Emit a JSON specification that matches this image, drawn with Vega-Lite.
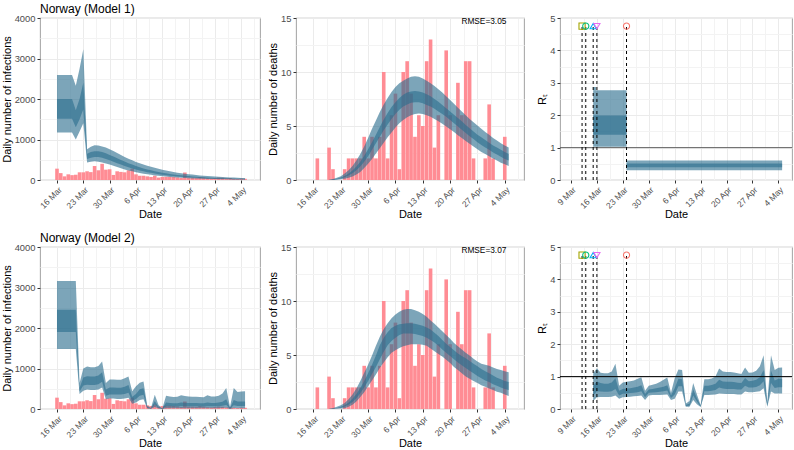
{
"$schema": "https://vega.github.io/schema/vega-lite/v6.json",
"padding": {"left": 0, "top": 2, "right": 0, "bottom": 0},
"bounds": "flush",
"align": "each",
"columns": 3,
"spacing": {"row": 67, "column": 36},
"config": {
  "font": "Liberation Sans",
  "view": {"stroke": "#ABABAB", "strokeWidth": 1.1},
  "axis": {"domain": false, "labelFont": "Liberation Sans", "labelFontSize": 9.4, "labelColor": "#4D4D4D", "titleFont": "Liberation Sans", "titleFontSize": 11, "titleFontWeight": "normal", "titleColor": "#000000", "tickSize": 3, "tickWidth": 1, "tickColor": "#333333", "gridColor": "#EBEBEB", "labelOverlap": false, "labelFlush": false},
  "axisX": {"labelPadding": 2, "titlePadding": -1, "labelFontSize": 8.5},
  "axisY": {"labelPadding": 2, "titlePadding": 2},
  "title": {"font": "Liberation Sans", "fontSize": 12, "fontWeight": "normal", "anchor": "start", "frame": "group", "color": "#000000", "offset": -3}
},
"datasets": {
  "cases": [
    {"date":"2020-03-16","count":280},{"date":"2020-03-17","count":170},{"date":"2020-03-18","count":90},{"date":"2020-03-19","count":140},{"date":"2020-03-20","count":120},{"date":"2020-03-21","count":130},{"date":"2020-03-22","count":190},{"date":"2020-03-23","count":190},{"date":"2020-03-24","count":215},{"date":"2020-03-25","count":195},{"date":"2020-03-26","count":345},{"date":"2020-03-27","count":240},{"date":"2020-03-28","count":400},{"date":"2020-03-29","count":255},{"date":"2020-03-30","count":265},{"date":"2020-03-31","count":125},
    {"date":"2020-04-01","count":215},{"date":"2020-04-02","count":200},{"date":"2020-04-03","count":190},{"date":"2020-04-04","count":240},{"date":"2020-04-05","count":280},{"date":"2020-04-06","count":140},{"date":"2020-04-07","count":105},{"date":"2020-04-08","count":105},{"date":"2020-04-09","count":90},{"date":"2020-04-10","count":75},{"date":"2020-04-11","count":105},{"date":"2020-04-12","count":60},{"date":"2020-04-13","count":75},{"date":"2020-04-14","count":80},{"date":"2020-04-15","count":80},{"date":"2020-04-16","count":75},{"date":"2020-04-17","count":65},{"date":"2020-04-18","count":50},{"date":"2020-04-19","count":185},{"date":"2020-04-20","count":60},{"date":"2020-04-21","count":60},{"date":"2020-04-22","count":55},{"date":"2020-04-23","count":70},{"date":"2020-04-24","count":60},{"date":"2020-04-25","count":45},{"date":"2020-04-26","count":40},{"date":"2020-04-27","count":50},{"date":"2020-04-28","count":60},{"date":"2020-04-29","count":55},{"date":"2020-04-30","count":40},
    {"date":"2020-05-01","count":50},{"date":"2020-05-02","count":30},{"date":"2020-05-03","count":25},{"date":"2020-05-04","count":35},{"date":"2020-05-05","count":30}
  ],
  "deaths": [
    {"date":"2020-03-16","count":0},{"date":"2020-03-17","count":2},{"date":"2020-03-18","count":0},{"date":"2020-03-19","count":0},{"date":"2020-03-20","count":3},{"date":"2020-03-21","count":1},{"date":"2020-03-22","count":0},{"date":"2020-03-23","count":0},{"date":"2020-03-24","count":1},{"date":"2020-03-25","count":2},{"date":"2020-03-26","count":2},{"date":"2020-03-27","count":2},{"date":"2020-03-28","count":2},{"date":"2020-03-29","count":4},{"date":"2020-03-30","count":2},{"date":"2020-03-31","count":4},
    {"date":"2020-04-01","count":2},{"date":"2020-04-02","count":4},{"date":"2020-04-03","count":10},{"date":"2020-04-04","count":2},{"date":"2020-04-05","count":6},{"date":"2020-04-06","count":8},{"date":"2020-04-07","count":1},{"date":"2020-04-08","count":10},{"date":"2020-04-09","count":11},{"date":"2020-04-10","count":8},{"date":"2020-04-11","count":4},{"date":"2020-04-12","count":6},{"date":"2020-04-13","count":5},{"date":"2020-04-14","count":11},{"date":"2020-04-15","count":13},{"date":"2020-04-16","count":3},{"date":"2020-04-17","count":6},{"date":"2020-04-18","count":0},{"date":"2020-04-19","count":12},{"date":"2020-04-20","count":6},{"date":"2020-04-21","count":0},{"date":"2020-04-22","count":9},{"date":"2020-04-23","count":6},{"date":"2020-04-24","count":11},{"date":"2020-04-25","count":11},{"date":"2020-04-26","count":2},{"date":"2020-04-27","count":0},{"date":"2020-04-28","count":0},{"date":"2020-04-29","count":2},{"date":"2020-04-30","count":7},
    {"date":"2020-05-01","count":2},{"date":"2020-05-02","count":0},{"date":"2020-05-03","count":0},{"date":"2020-05-04","count":4}
  ],
  "inf1": [
    {"date":"2020-03-16","lo95":1170,"lo50":1510,"hi50":2000,"hi95":2590},
    {"date":"2020-03-17","lo95":1170,"lo50":1510,"hi50":2000,"hi95":2590},
    {"date":"2020-03-18","lo95":1170,"lo50":1510,"hi50":2000,"hi95":2590},
    {"date":"2020-03-19","lo95":1170,"lo50":1510,"hi50":2000,"hi95":2590},
    {"date":"2020-03-20","lo95":1170,"lo50":1510,"hi50":2000,"hi95":2590},
    {"date":"2020-03-21","lo95":1000,"lo50":1300,"hi50":1720,"hi95":2330},
    {"date":"2020-03-22","lo95":1200,"lo50":1500,"hi50":2000,"hi95":2750},
    {"date":"2020-03-23","lo95":1400,"lo50":1750,"hi50":2400,"hi95":3230},
    {"date":"2020-03-24","lo95":430,"lo50":520,"hi50":650,"hi95":760},
    {"date":"2020-03-25","lo95":450,"lo50":550,"hi50":690,"hi95":820},
    {"date":"2020-03-26","lo95":460,"lo50":570,"hi50":710,"hi95":855},
    {"date":"2020-03-27","lo95":450,"lo50":565,"hi50":710,"hi95":850},
    {"date":"2020-03-28","lo95":430,"lo50":550,"hi50":690,"hi95":830},
    {"date":"2020-03-29","lo95":410,"lo50":520,"hi50":660,"hi95":800},
    {"date":"2020-03-30","lo95":380,"lo50":490,"hi50":620,"hi95":760},
    {"date":"2020-03-31","lo95":350,"lo50":450,"hi50":580,"hi95":715},
    {"date":"2020-04-01","lo95":320,"lo50":415,"hi50":535,"hi95":665},
    {"date":"2020-04-02","lo95":290,"lo50":380,"hi50":495,"hi95":615},
    {"date":"2020-04-03","lo95":262,"lo50":345,"hi50":455,"hi95":570},
    {"date":"2020-04-04","lo95":237,"lo50":315,"hi50":415,"hi95":525},
    {"date":"2020-04-05","lo95":214,"lo50":287,"hi50":380,"hi95":485},
    {"date":"2020-04-06","lo95":193,"lo50":260,"hi50":346,"hi95":447},
    {"date":"2020-04-07","lo95":174,"lo50":236,"hi50":315,"hi95":412},
    {"date":"2020-04-08","lo95":157,"lo50":214,"hi50":287,"hi95":380},
    {"date":"2020-04-09","lo95":141,"lo50":194,"hi50":262,"hi95":351},
    {"date":"2020-04-10","lo95":127,"lo50":176,"hi50":239,"hi95":325},
    {"date":"2020-04-11","lo95":114,"lo50":160,"hi50":218,"hi95":300},
    {"date":"2020-04-12","lo95":103,"lo50":145,"hi50":199,"hi95":276},
    {"date":"2020-04-13","lo95":93,"lo50":131,"hi50":181,"hi95":253},
    {"date":"2020-04-14","lo95":84,"lo50":119,"hi50":165,"hi95":233},
    {"date":"2020-04-15","lo95":75,"lo50":108,"hi50":151,"hi95":214},
    {"date":"2020-04-16","lo95":68,"lo50":98,"hi50":138,"hi95":197},
    {"date":"2020-04-17","lo95":61,"lo50":89,"hi50":126,"hi95":182},
    {"date":"2020-04-18","lo95":55,"lo50":80,"hi50":115,"hi95":168},
    {"date":"2020-04-19","lo95":50,"lo50":73,"hi50":105,"hi95":155},
    {"date":"2020-04-20","lo95":45,"lo50":66,"hi50":96,"hi95":144},
    {"date":"2020-04-21","lo95":40,"lo50":60,"hi50":88,"hi95":133},
    {"date":"2020-04-22","lo95":36,"lo50":54,"hi50":80,"hi95":123},
    {"date":"2020-04-23","lo95":33,"lo50":49,"hi50":73,"hi95":114},
    {"date":"2020-04-24","lo95":30,"lo50":44,"hi50":67,"hi95":106},
    {"date":"2020-04-25","lo95":27,"lo50":40,"hi50":61,"hi95":98},
    {"date":"2020-04-26","lo95":24,"lo50":36,"hi50":56,"hi95":91},
    {"date":"2020-04-27","lo95":22,"lo50":33,"hi50":51,"hi95":85},
    {"date":"2020-04-28","lo95":20,"lo50":30,"hi50":47,"hi95":79},
    {"date":"2020-04-29","lo95":18,"lo50":27,"hi50":43,"hi95":73},
    {"date":"2020-04-30","lo95":16,"lo50":25,"hi50":39,"hi95":68},
    {"date":"2020-05-01","lo95":14,"lo50":22,"hi50":36,"hi95":63},
    {"date":"2020-05-02","lo95":13,"lo50":20,"hi50":33,"hi95":59},
    {"date":"2020-05-03","lo95":12,"lo50":18,"hi50":30,"hi95":55},
    {"date":"2020-05-04","lo95":11,"lo50":17,"hi50":28,"hi95":51},
    {"date":"2020-05-05","lo95":10,"lo50":15,"hi50":26,"hi95":48}
  ],
  "inf2": [
    {"date":"2020-03-16","lo95":1480,"lo50":1900,"hi50":2450,"hi95":3160},
    {"date":"2020-03-17","lo95":1480,"lo50":1900,"hi50":2450,"hi95":3160},
    {"date":"2020-03-18","lo95":1480,"lo50":1900,"hi50":2450,"hi95":3160},
    {"date":"2020-03-19","lo95":1480,"lo50":1900,"hi50":2450,"hi95":3160},
    {"date":"2020-03-20","lo95":1480,"lo50":1900,"hi50":2450,"hi95":3160},
    {"date":"2020-03-21","lo95":1480,"lo50":1900,"hi50":2450,"hi95":3160},
    {"date":"2020-03-22","lo95":370,"lo50":430,"hi50":520,"hi95":640},
    {"date":"2020-03-23","lo95":450,"lo50":580,"hi50":780,"hi95":1000},
    {"date":"2020-03-24","lo95":480,"lo50":600,"hi50":810,"hi95":1050},
    {"date":"2020-03-25","lo95":470,"lo50":590,"hi50":800,"hi95":1030},
    {"date":"2020-03-26","lo95":470,"lo50":590,"hi50":800,"hi95":1030},
    {"date":"2020-03-27","lo95":480,"lo50":610,"hi50":830,"hi95":1060},
    {"date":"2020-03-28","lo95":530,"lo50":670,"hi50":910,"hi95":1170},
    {"date":"2020-03-29","lo95":240,"lo50":330,"hi50":480,"hi95":640},
    {"date":"2020-03-30","lo95":260,"lo50":360,"hi50":530,"hi95":730},
    {"date":"2020-03-31","lo95":260,"lo50":360,"hi50":530,"hi95":730},
    {"date":"2020-04-01","lo95":250,"lo50":355,"hi50":525,"hi95":720},
    {"date":"2020-04-02","lo95":250,"lo50":355,"hi50":525,"hi95":720},
    {"date":"2020-04-03","lo95":260,"lo50":370,"hi50":550,"hi95":760},
    {"date":"2020-04-04","lo95":280,"lo50":400,"hi50":590,"hi95":800},
    {"date":"2020-04-05","lo95":130,"lo50":200,"hi50":300,"hi95":440},
    {"date":"2020-04-06","lo95":160,"lo50":245,"hi50":370,"hi95":560},
    {"date":"2020-04-07","lo95":220,"lo50":330,"hi50":490,"hi95":650},
    {"date":"2020-04-08","lo95":240,"lo50":350,"hi50":510,"hi95":680},
    {"date":"2020-04-09","lo95":15,"lo50":25,"hi50":45,"hi95":80},
    {"date":"2020-04-10","lo95":5,"lo50":10,"hi50":20,"hi95":30},
    {"date":"2020-04-11","lo95":50,"lo50":110,"hi50":200,"hi95":350},
    {"date":"2020-04-12","lo95":15,"lo50":30,"hi50":55,"hi95":100},
    {"date":"2020-04-13","lo95":0,"lo50":3,"hi50":6,"hi95":12},
    {"date":"2020-04-14","lo95":20,"lo50":70,"hi50":160,"hi95":330},
    {"date":"2020-04-15","lo95":18,"lo50":65,"hi50":150,"hi95":310},
    {"date":"2020-04-16","lo95":17,"lo50":62,"hi50":145,"hi95":295},
    {"date":"2020-04-17","lo95":17,"lo50":62,"hi50":145,"hi95":300},
    {"date":"2020-04-18","lo95":20,"lo50":70,"hi50":160,"hi95":340},
    {"date":"2020-04-19","lo95":19,"lo50":68,"hi50":155,"hi95":320},
    {"date":"2020-04-20","lo95":18,"lo50":66,"hi50":150,"hi95":310},
    {"date":"2020-04-21","lo95":18,"lo50":65,"hi50":148,"hi95":300},
    {"date":"2020-04-22","lo95":18,"lo50":65,"hi50":148,"hi95":300},
    {"date":"2020-04-23","lo95":17,"lo50":63,"hi50":145,"hi95":295},
    {"date":"2020-04-24","lo95":16,"lo50":60,"hi50":140,"hi95":290},
    {"date":"2020-04-25","lo95":20,"lo50":70,"hi50":160,"hi95":340},
    {"date":"2020-04-26","lo95":18,"lo50":65,"hi50":150,"hi95":310},
    {"date":"2020-04-27","lo95":18,"lo50":65,"hi50":150,"hi95":310},
    {"date":"2020-04-28","lo95":19,"lo50":68,"hi50":158,"hi95":330},
    {"date":"2020-04-29","lo95":22,"lo50":78,"hi50":180,"hi95":380},
    {"date":"2020-04-30","lo95":28,"lo50":100,"hi50":240,"hi95":520},
    {"date":"2020-05-01","lo95":3,"lo50":10,"hi50":22,"hi95":50},
    {"date":"2020-05-02","lo95":25,"lo50":90,"hi50":220,"hi95":520},
    {"date":"2020-05-03","lo95":20,"lo50":75,"hi50":185,"hi95":420},
    {"date":"2020-05-04","lo95":20,"lo50":75,"hi50":185,"hi95":430},
    {"date":"2020-05-05","lo95":20,"lo50":75,"hi50":185,"hi95":440}
  ],
  "dth1": [
    {"date":"2020-03-20","lo95":0,"lo50":0,"hi50":0,"hi95":0.03},
    {"date":"2020-03-21","lo95":0.01,"lo50":0.03,"hi50":0.06,"hi95":0.1},
    {"date":"2020-03-22","lo95":0.03,"lo50":0.07,"hi50":0.12,"hi95":0.2},
    {"date":"2020-03-23","lo95":0.06,"lo50":0.14,"hi50":0.22,"hi95":0.35},
    {"date":"2020-03-24","lo95":0.12,"lo50":0.25,"hi50":0.38,"hi95":0.6},
    {"date":"2020-03-25","lo95":0.2,"lo50":0.42,"hi50":0.6,"hi95":0.9},
    {"date":"2020-03-26","lo95":0.32,"lo50":0.62,"hi50":0.88,"hi95":1.3},
    {"date":"2020-03-27","lo95":0.5,"lo50":0.9,"hi50":1.25,"hi95":1.8},
    {"date":"2020-03-28","lo95":0.75,"lo50":1.25,"hi50":1.7,"hi95":2.4},
    {"date":"2020-03-29","lo95":1.1,"lo50":1.7,"hi50":2.25,"hi95":3.1},
    {"date":"2020-03-30","lo95":1.5,"lo50":2.2,"hi50":2.85,"hi95":3.9},
    {"date":"2020-03-31","lo95":1.95,"lo50":2.8,"hi50":3.5,"hi95":4.75},
    {"date":"2020-04-01","lo95":2.45,"lo50":3.4,"hi50":4.2,"hi95":5.5},
    {"date":"2020-04-02","lo95":2.95,"lo50":4.0,"hi50":4.9,"hi95":6.3},
    {"date":"2020-04-03","lo95":3.45,"lo50":4.6,"hi50":5.6,"hi95":7.0},
    {"date":"2020-04-04","lo95":3.95,"lo50":5.15,"hi50":6.2,"hi95":7.6},
    {"date":"2020-04-05","lo95":4.4,"lo50":5.65,"hi50":6.75,"hi95":8.15},
    {"date":"2020-04-06","lo95":4.85,"lo50":6.1,"hi50":7.2,"hi95":8.6},
    {"date":"2020-04-07","lo95":5.25,"lo50":6.5,"hi50":7.6,"hi95":8.95},
    {"date":"2020-04-08","lo95":5.55,"lo50":6.8,"hi50":7.9,"hi95":9.2},
    {"date":"2020-04-09","lo95":5.8,"lo50":7.0,"hi50":8.1,"hi95":9.4},
    {"date":"2020-04-10","lo95":6.0,"lo50":7.15,"hi50":8.2,"hi95":9.55},
    {"date":"2020-04-11","lo95":6.1,"lo50":7.2,"hi50":8.25,"hi95":9.6},
    {"date":"2020-04-12","lo95":6.15,"lo50":7.2,"hi50":8.2,"hi95":9.55},
    {"date":"2020-04-13","lo95":6.1,"lo50":7.1,"hi50":8.1,"hi95":9.4},
    {"date":"2020-04-14","lo95":6.0,"lo50":6.95,"hi50":7.95,"hi95":9.2},
    {"date":"2020-04-15","lo95":5.85,"lo50":6.8,"hi50":7.75,"hi95":8.95},
    {"date":"2020-04-16","lo95":5.65,"lo50":6.6,"hi50":7.5,"hi95":8.7},
    {"date":"2020-04-17","lo95":5.45,"lo50":6.35,"hi50":7.25,"hi95":8.4},
    {"date":"2020-04-18","lo95":5.2,"lo50":6.1,"hi50":6.95,"hi95":8.1},
    {"date":"2020-04-19","lo95":4.95,"lo50":5.85,"hi50":6.65,"hi95":7.75},
    {"date":"2020-04-20","lo95":4.7,"lo50":5.55,"hi50":6.35,"hi95":7.4},
    {"date":"2020-04-21","lo95":4.45,"lo50":5.25,"hi50":6.05,"hi95":7.05},
    {"date":"2020-04-22","lo95":4.15,"lo50":4.95,"hi50":5.75,"hi95":6.7},
    {"date":"2020-04-23","lo95":3.9,"lo50":4.65,"hi50":5.45,"hi95":6.35},
    {"date":"2020-04-24","lo95":3.6,"lo50":4.35,"hi50":5.1,"hi95":6.0},
    {"date":"2020-04-25","lo95":3.35,"lo50":4.05,"hi50":4.8,"hi95":5.65},
    {"date":"2020-04-26","lo95":3.1,"lo50":3.8,"hi50":4.5,"hi95":5.35},
    {"date":"2020-04-27","lo95":2.85,"lo50":3.5,"hi50":4.2,"hi95":5.05},
    {"date":"2020-04-28","lo95":2.6,"lo50":3.25,"hi50":3.95,"hi95":4.75},
    {"date":"2020-04-29","lo95":2.4,"lo50":3.0,"hi50":3.7,"hi95":4.45},
    {"date":"2020-04-30","lo95":2.2,"lo50":2.8,"hi50":3.45,"hi95":4.2},
    {"date":"2020-05-01","lo95":2.0,"lo50":2.55,"hi50":3.2,"hi95":3.9},
    {"date":"2020-05-02","lo95":1.8,"lo50":2.35,"hi50":3.0,"hi95":3.65},
    {"date":"2020-05-03","lo95":1.6,"lo50":2.15,"hi50":2.8,"hi95":3.4},
    {"date":"2020-05-04","lo95":1.45,"lo50":1.95,"hi50":2.6,"hi95":3.2},
    {"date":"2020-05-05","lo95":1.3,"lo50":1.8,"hi50":2.4,"hi95":3.0}
  ],
  "dth2": [
    {"date":"2020-03-20","lo95":0,"lo50":0,"hi50":0,"hi95":0.03},
    {"date":"2020-03-21","lo95":0.01,"lo50":0.03,"hi50":0.05,"hi95":0.1},
    {"date":"2020-03-22","lo95":0.02,"lo50":0.06,"hi50":0.1,"hi95":0.2},
    {"date":"2020-03-23","lo95":0.04,"lo50":0.12,"hi50":0.2,"hi95":0.35},
    {"date":"2020-03-24","lo95":0.08,"lo50":0.22,"hi50":0.35,"hi95":0.55},
    {"date":"2020-03-25","lo95":0.2,"lo50":0.4,"hi50":0.6,"hi95":0.9},
    {"date":"2020-03-26","lo95":0.4,"lo50":0.65,"hi50":0.95,"hi95":1.35},
    {"date":"2020-03-27","lo95":0.7,"lo50":1.0,"hi50":1.4,"hi95":1.9},
    {"date":"2020-03-28","lo95":1.1,"lo50":1.45,"hi50":1.95,"hi95":2.6},
    {"date":"2020-03-29","lo95":1.55,"lo50":2.0,"hi50":2.6,"hi95":3.35},
    {"date":"2020-03-30","lo95":2.1,"lo50":2.6,"hi50":3.3,"hi95":4.1},
    {"date":"2020-03-31","lo95":2.65,"lo50":3.25,"hi50":4.1,"hi95":4.95},
    {"date":"2020-04-01","lo95":3.2,"lo50":3.9,"hi50":4.95,"hi95":5.85},
    {"date":"2020-04-02","lo95":3.8,"lo50":4.6,"hi50":5.9,"hi95":6.7},
    {"date":"2020-04-03","lo95":4.3,"lo50":5.3,"hi50":6.6,"hi95":7.4},
    {"date":"2020-04-04","lo95":4.8,"lo50":5.9,"hi50":7.1,"hi95":7.95},
    {"date":"2020-04-05","lo95":5.2,"lo50":6.3,"hi50":7.5,"hi95":8.4},
    {"date":"2020-04-06","lo95":5.45,"lo50":6.6,"hi50":7.7,"hi95":8.75},
    {"date":"2020-04-07","lo95":5.65,"lo50":6.85,"hi50":7.85,"hi95":9.0},
    {"date":"2020-04-08","lo95":5.8,"lo50":7.0,"hi50":7.9,"hi95":9.2},
    {"date":"2020-04-09","lo95":5.9,"lo50":7.0,"hi50":7.95,"hi95":9.25},
    {"date":"2020-04-10","lo95":6.0,"lo50":7.0,"hi50":7.95,"hi95":9.25},
    {"date":"2020-04-11","lo95":6.0,"lo50":6.95,"hi50":7.9,"hi95":9.15},
    {"date":"2020-04-12","lo95":6.0,"lo50":6.85,"hi50":7.8,"hi95":9.0},
    {"date":"2020-04-13","lo95":5.95,"lo50":6.75,"hi50":7.7,"hi95":8.8},
    {"date":"2020-04-14","lo95":5.85,"lo50":6.6,"hi50":7.55,"hi95":8.55},
    {"date":"2020-04-15","lo95":5.6,"lo50":6.4,"hi50":7.35,"hi95":8.2},
    {"date":"2020-04-16","lo95":5.35,"lo50":6.15,"hi50":7.05,"hi95":7.9},
    {"date":"2020-04-17","lo95":5.1,"lo50":5.85,"hi50":6.75,"hi95":7.55},
    {"date":"2020-04-18","lo95":4.85,"lo50":5.5,"hi50":6.4,"hi95":7.2},
    {"date":"2020-04-19","lo95":4.55,"lo50":5.2,"hi50":6.05,"hi95":6.85},
    {"date":"2020-04-20","lo95":4.25,"lo50":4.9,"hi50":5.75,"hi95":6.5},
    {"date":"2020-04-21","lo95":3.9,"lo50":4.6,"hi50":5.45,"hi95":6.1},
    {"date":"2020-04-22","lo95":3.6,"lo50":4.3,"hi50":5.15,"hi95":5.8},
    {"date":"2020-04-23","lo95":3.3,"lo50":4.05,"hi50":4.9,"hi95":5.5},
    {"date":"2020-04-24","lo95":3.0,"lo50":3.8,"hi50":4.7,"hi95":5.2},
    {"date":"2020-04-25","lo95":2.8,"lo50":3.55,"hi50":4.45,"hi95":4.95},
    {"date":"2020-04-26","lo95":2.6,"lo50":3.3,"hi50":4.2,"hi95":4.65},
    {"date":"2020-04-27","lo95":2.4,"lo50":3.05,"hi50":3.95,"hi95":4.4},
    {"date":"2020-04-28","lo95":2.2,"lo50":2.85,"hi50":3.7,"hi95":4.2},
    {"date":"2020-04-29","lo95":2.05,"lo50":2.65,"hi50":3.5,"hi95":4.1},
    {"date":"2020-04-30","lo95":1.9,"lo50":2.5,"hi50":3.3,"hi95":4.0},
    {"date":"2020-05-01","lo95":1.75,"lo50":2.3,"hi50":3.1,"hi95":3.85},
    {"date":"2020-05-02","lo95":1.6,"lo50":2.15,"hi50":2.9,"hi95":3.7},
    {"date":"2020-05-03","lo95":1.5,"lo50":2.0,"hi50":2.75,"hi95":3.6},
    {"date":"2020-05-04","lo95":1.35,"lo50":1.85,"hi50":2.6,"hi95":3.5},
    {"date":"2020-05-05","lo95":1.2,"lo50":1.75,"hi50":2.5,"hi95":3.4}
  ],
  "rt1": [
    {"start":"2020-03-15","end":"2020-03-24","lo95":1.03,"lo50":1.40,"hi50":1.99,"hi95":2.77},
    {"start":"2020-03-24","end":"2020-05-05","lo95":0.30,"lo50":0.39,"hi50":0.51,"hi95":0.60},
    {"start":"2020-03-15","end":"2020-03-15T18:00:00Z","lo95":2.77,"lo50":null,"hi50":null,"hi95":2.87}
  ],
  "rt2": [
    {"date":"2020-03-15","lo95":0.25,"lo50":0.42,"hi50":0.72,"hi95":1.1},
    {"date":"2020-03-16","lo95":0.36,"lo50":0.55,"hi50":0.85,"hi95":1.26},
    {"date":"2020-03-17","lo95":0.37,"lo50":0.54,"hi50":0.8,"hi95":1.12},
    {"date":"2020-03-18","lo95":0.37,"lo50":0.53,"hi50":0.78,"hi95":1.1},
    {"date":"2020-03-19","lo95":0.37,"lo50":0.53,"hi50":0.78,"hi95":1.1},
    {"date":"2020-03-20","lo95":0.38,"lo50":0.55,"hi50":0.82,"hi95":1.16},
    {"date":"2020-03-21","lo95":0.42,"lo50":0.62,"hi50":0.95,"hi95":1.4},
    {"date":"2020-03-22","lo95":0.32,"lo50":0.42,"hi50":0.56,"hi95":0.72},
    {"date":"2020-03-23","lo95":0.36,"lo50":0.47,"hi50":0.62,"hi95":0.82},
    {"date":"2020-03-24","lo95":0.37,"lo50":0.48,"hi50":0.63,"hi95":0.84},
    {"date":"2020-03-25","lo95":0.38,"lo50":0.49,"hi50":0.64,"hi95":0.86},
    {"date":"2020-03-26","lo95":0.39,"lo50":0.5,"hi50":0.66,"hi95":0.88},
    {"date":"2020-03-27","lo95":0.4,"lo50":0.52,"hi50":0.69,"hi95":0.93},
    {"date":"2020-03-28","lo95":0.42,"lo50":0.55,"hi50":0.73,"hi95":0.98},
    {"date":"2020-03-29","lo95":0.28,"lo50":0.36,"hi50":0.46,"hi95":0.56},
    {"date":"2020-03-30","lo95":0.42,"lo50":0.5,"hi50":0.6,"hi95":0.72},
    {"date":"2020-03-31","lo95":0.43,"lo50":0.51,"hi50":0.62,"hi95":0.75},
    {"date":"2020-04-01","lo95":0.43,"lo50":0.52,"hi50":0.64,"hi95":0.78},
    {"date":"2020-04-02","lo95":0.43,"lo50":0.53,"hi50":0.66,"hi95":0.83},
    {"date":"2020-04-03","lo95":0.44,"lo50":0.55,"hi50":0.69,"hi95":0.9},
    {"date":"2020-04-04","lo95":0.45,"lo50":0.57,"hi50":0.73,"hi95":0.97},
    {"date":"2020-04-05","lo95":0.28,"lo50":0.34,"hi50":0.42,"hi95":0.5},
    {"date":"2020-04-06","lo95":0.32,"lo50":0.45,"hi50":0.64,"hi95":0.95},
    {"date":"2020-04-07","lo95":0.54,"lo50":0.7,"hi50":0.93,"hi95":1.22},
    {"date":"2020-04-08","lo95":0.54,"lo50":0.7,"hi50":0.92,"hi95":1.2},
    {"date":"2020-04-09","lo95":0.07,"lo50":0.09,"hi50":0.13,"hi95":0.17},
    {"date":"2020-04-10","lo95":0.07,"lo50":0.1,"hi50":0.16,"hi95":0.25},
    {"date":"2020-04-11","lo95":0.28,"lo50":0.42,"hi50":0.6,"hi95":0.8},
    {"date":"2020-04-12","lo95":0.15,"lo50":0.23,"hi50":0.33,"hi95":0.45},
    {"date":"2020-04-13","lo95":0.06,"lo50":0.07,"hi50":0.09,"hi95":0.12},
    {"date":"2020-04-14","lo95":0.43,"lo50":0.55,"hi50":0.72,"hi95":0.92},
    {"date":"2020-04-15","lo95":0.43,"lo50":0.55,"hi50":0.72,"hi95":0.92},
    {"date":"2020-04-16","lo95":0.44,"lo50":0.56,"hi50":0.74,"hi95":0.94},
    {"date":"2020-04-17","lo95":0.45,"lo50":0.59,"hi50":0.78,"hi95":1.0},
    {"date":"2020-04-18","lo95":0.48,"lo50":0.66,"hi50":0.9,"hi95":1.25},
    {"date":"2020-04-19","lo95":0.47,"lo50":0.63,"hi50":0.85,"hi95":1.16},
    {"date":"2020-04-20","lo95":0.46,"lo50":0.62,"hi50":0.84,"hi95":1.14},
    {"date":"2020-04-21","lo95":0.46,"lo50":0.62,"hi50":0.84,"hi95":1.14},
    {"date":"2020-04-22","lo95":0.46,"lo50":0.62,"hi50":0.83,"hi95":1.13},
    {"date":"2020-04-23","lo95":0.45,"lo50":0.6,"hi50":0.81,"hi95":1.1},
    {"date":"2020-04-24","lo95":0.45,"lo50":0.6,"hi50":0.8,"hi95":1.08},
    {"date":"2020-04-25","lo95":0.54,"lo50":0.72,"hi50":0.96,"hi95":1.28},
    {"date":"2020-04-26","lo95":0.52,"lo50":0.66,"hi50":0.86,"hi95":1.12},
    {"date":"2020-04-27","lo95":0.52,"lo50":0.66,"hi50":0.87,"hi95":1.13},
    {"date":"2020-04-28","lo95":0.53,"lo50":0.68,"hi50":0.9,"hi95":1.18},
    {"date":"2020-04-29","lo95":0.55,"lo50":0.73,"hi50":0.98,"hi95":1.32},
    {"date":"2020-04-30","lo95":0.64,"lo50":0.86,"hi50":1.2,"hi95":1.66},
    {"date":"2020-05-01","lo95":0.07,"lo50":0.1,"hi50":0.15,"hi95":0.2},
    {"date":"2020-05-02","lo95":0.54,"lo50":0.8,"hi50":1.18,"hi95":1.66},
    {"date":"2020-05-03","lo95":0.48,"lo50":0.65,"hi50":0.88,"hi95":1.2},
    {"date":"2020-05-04","lo95":0.48,"lo50":0.67,"hi50":0.93,"hi95":1.27},
    {"date":"2020-05-05","lo95":0.48,"lo50":0.67,"hi50":0.93,"hi95":1.28}
  ],
  "npi": [
    {"date":"2020-03-12","measure":"Public events"},
    {"date":"2020-03-13","measure":"Schools + Universities"},
    {"date":"2020-03-15","measure":"Self-isolating if ill"},
    {"date":"2020-03-16","measure":"Social distancing encouraged"},
    {"date":"2020-03-24","measure":"Lockdown"}
  ]
},
"concat": [
  {"width": 220, "height": 162, "title": "Norway (Model 1)",
   "layer": [
    {"data": {"name": "cases"}, "mark": {"type": "bar", "width": 3.6, "color": "#FF8C94"},
     "encoding": {
      "x": {"field": "date", "type": "temporal", "title": "Date", "scale": {"type": "utc", "domain": [{"year":2020,"month":3,"date":12,"hours":19,"minutes":30,"utc":true},{"year":2020,"month":5,"date":7,"hours":15,"minutes":30,"utc":true}]},
            "axis": {"labelOverlap": false, "tickCount": 100, "values": [{"year":2020,"month":3,"date":16,"utc":true},{"year":2020,"month":3,"date":19,"hours":12,"utc":true},{"year":2020,"month":3,"date":23,"utc":true},{"year":2020,"month":3,"date":26,"hours":12,"utc":true},{"year":2020,"month":3,"date":30,"utc":true},{"year":2020,"month":4,"date":2,"hours":12,"utc":true},{"year":2020,"month":4,"date":6,"utc":true},{"year":2020,"month":4,"date":9,"hours":12,"utc":true},{"year":2020,"month":4,"date":13,"utc":true},{"year":2020,"month":4,"date":16,"hours":12,"utc":true},{"year":2020,"month":4,"date":20,"utc":true},{"year":2020,"month":4,"date":23,"hours":12,"utc":true},{"year":2020,"month":4,"date":27,"utc":true},{"year":2020,"month":4,"date":30,"hours":12,"utc":true},{"year":2020,"month":5,"date":4,"utc":true},{"year":2020,"month":5,"date":7,"hours":12,"utc":true}],
              "labelExpr": "utchours(datum.value) == 12 ? '' : utcFormat(datum.value, '%-d %b')", "labelAngle": -45, "labelAlign": "right", "labelBaseline": "top",
              "gridColor": {"condition": {"test": "utchours(datum.value) == 12", "value": "#F3F3F3"}, "value": "#EBEBEB"},
              "tickColor": {"condition": {"test": "utchours(datum.value) == 12", "value": "transparent"}, "value": "#333333"}}},
      "y": {"field": "count", "type": "quantitative", "title": "Daily number of infections", "scale": {"domain": [0, 4000], "nice": false},
            "axis": {"labelOverlap": false, "tickCount": 100, "values": [0,500,1000,1500,2000,2500,3000,3500,4000],
              "labelExpr": "datum.value % 1000 == 0 ? format(datum.value, 'd') : ''",
              "gridColor": {"condition": {"test": "datum.value % 1000 != 0", "value": "#F3F3F3"}, "value": "#EBEBEB"},
              "tickColor": {"condition": {"test": "datum.value % 1000 != 0", "value": "transparent"}, "value": "#333333"}}}
     }},
    {"data": {"name": "inf1"}, "mark": {"type": "area", "color": "#2C6D8E", "opacity": 0.62},
     "encoding": {"x": {"field": "date", "type": "temporal", "title": "Date", "scale": {"type": "utc"}}, "y": {"field": "lo95", "type": "quantitative", "title": "Daily number of infections"}, "y2": {"field": "hi95"}}},
    {"data": {"name": "inf1"}, "mark": {"type": "area", "color": "#2C6D8E", "opacity": 0.62},
     "encoding": {"x": {"field": "date", "type": "temporal", "title": "Date", "scale": {"type": "utc"}}, "y": {"field": "lo50", "type": "quantitative", "title": "Daily number of infections"}, "y2": {"field": "hi50"}}}
   ]},
  {"width": 228, "height": 162,
   "layer": [
    {"data": {"name": "deaths"}, "mark": {"type": "bar", "width": 3.6, "color": "#FF8C94"},
     "encoding": {
      "x": {"field": "date", "type": "temporal", "title": "Date", "scale": {"type": "utc", "domain": [{"year":2020,"month":3,"date":12,"hours":19,"minutes":30,"utc":true},{"year":2020,"month":5,"date":7,"hours":15,"minutes":30,"utc":true}]},
            "axis": {"labelOverlap": false, "tickCount": 100, "values": [{"year":2020,"month":3,"date":16,"utc":true},{"year":2020,"month":3,"date":19,"hours":12,"utc":true},{"year":2020,"month":3,"date":23,"utc":true},{"year":2020,"month":3,"date":26,"hours":12,"utc":true},{"year":2020,"month":3,"date":30,"utc":true},{"year":2020,"month":4,"date":2,"hours":12,"utc":true},{"year":2020,"month":4,"date":6,"utc":true},{"year":2020,"month":4,"date":9,"hours":12,"utc":true},{"year":2020,"month":4,"date":13,"utc":true},{"year":2020,"month":4,"date":16,"hours":12,"utc":true},{"year":2020,"month":4,"date":20,"utc":true},{"year":2020,"month":4,"date":23,"hours":12,"utc":true},{"year":2020,"month":4,"date":27,"utc":true},{"year":2020,"month":4,"date":30,"hours":12,"utc":true},{"year":2020,"month":5,"date":4,"utc":true},{"year":2020,"month":5,"date":7,"hours":12,"utc":true}],
              "labelExpr": "utchours(datum.value) == 12 ? '' : utcFormat(datum.value, '%-d %b')", "labelAngle": -45, "labelAlign": "right", "labelBaseline": "top",
              "gridColor": {"condition": {"test": "utchours(datum.value) == 12", "value": "#F3F3F3"}, "value": "#EBEBEB"},
              "tickColor": {"condition": {"test": "utchours(datum.value) == 12", "value": "transparent"}, "value": "#333333"}}},
      "y": {"field": "count", "type": "quantitative", "title": "Daily number of deaths", "scale": {"domain": [0, 15], "nice": false},
            "axis": {"labelOverlap": false, "tickCount": 100, "values": [0,2.5,5,7.5,10,12.5,15],
              "labelExpr": "datum.value % 5 == 0 ? format(datum.value, 'd') : ''",
              "gridColor": {"condition": {"test": "datum.value % 5 != 0", "value": "#F3F3F3"}, "value": "#EBEBEB"},
              "tickColor": {"condition": {"test": "datum.value % 5 != 0", "value": "transparent"}, "value": "#333333"}}}
     }},
    {"data": {"name": "dth1"}, "mark": {"type": "area", "color": "#2C6D8E", "opacity": 0.62},
     "encoding": {"x": {"field": "date", "type": "temporal", "title": "Date", "scale": {"type": "utc"}}, "y": {"field": "lo95", "type": "quantitative", "title": "Daily number of deaths"}, "y2": {"field": "hi95"}}},
    {"data": {"name": "dth1"}, "mark": {"type": "area", "color": "#2C6D8E", "opacity": 0.62},
     "encoding": {"x": {"field": "date", "type": "temporal", "title": "Date", "scale": {"type": "utc"}}, "y": {"field": "lo50", "type": "quantitative", "title": "Daily number of deaths"}, "y2": {"field": "hi50"}}},
    {"data": {"values": [{"label": "RMSE=3.05"}]}, "mark": {"type": "text", "align": "right", "baseline": "middle", "fontSize": 8.3, "color": "#000000"},
     "encoding": {"x": {"datum": {"year":2020,"month":5,"date":4,"hours":10,"utc":true}, "type": "temporal", "title": "Date", "scale": {"type": "utc"}}, "y": {"datum": 14.6, "type": "quantitative", "title": "Daily number of deaths"}, "text": {"field": "label"}}}
   ]},
  {"width": 232, "height": 162,
   "layer": [
    {"data": {"name": "rt1"}, "mark": {"type": "rect", "color": "#2C6D8E", "opacity": 0.62},
     "encoding": {
      "x": {"field": "start", "type": "temporal", "title": "Date", "scale": {"type": "utc", "domain": [{"year":2020,"month":3,"date":6,"hours":1,"utc":true},{"year":2020,"month":5,"date":7,"hours":16,"utc":true}]},
            "axis": {"labelOverlap": false, "tickCount": 100, "values": [{"year":2020,"month":3,"date":9,"utc":true},{"year":2020,"month":3,"date":12,"hours":12,"utc":true},{"year":2020,"month":3,"date":16,"utc":true},{"year":2020,"month":3,"date":19,"hours":12,"utc":true},{"year":2020,"month":3,"date":23,"utc":true},{"year":2020,"month":3,"date":26,"hours":12,"utc":true},{"year":2020,"month":3,"date":30,"utc":true},{"year":2020,"month":4,"date":2,"hours":12,"utc":true},{"year":2020,"month":4,"date":6,"utc":true},{"year":2020,"month":4,"date":9,"hours":12,"utc":true},{"year":2020,"month":4,"date":13,"utc":true},{"year":2020,"month":4,"date":16,"hours":12,"utc":true},{"year":2020,"month":4,"date":20,"utc":true},{"year":2020,"month":4,"date":23,"hours":12,"utc":true},{"year":2020,"month":4,"date":27,"utc":true},{"year":2020,"month":4,"date":30,"hours":12,"utc":true},{"year":2020,"month":5,"date":4,"utc":true},{"year":2020,"month":5,"date":7,"hours":12,"utc":true}],
              "labelExpr": "utchours(datum.value) == 12 ? '' : utcFormat(datum.value, '%-d %b')", "labelAngle": -45, "labelAlign": "right", "labelBaseline": "top",
              "gridColor": {"condition": {"test": "utchours(datum.value) == 12", "value": "#F3F3F3"}, "value": "#EBEBEB"},
              "tickColor": {"condition": {"test": "utchours(datum.value) == 12", "value": "transparent"}, "value": "#333333"}}},
      "x2": {"field": "end"},
      "y": {"field": "lo95", "type": "quantitative", "title": "Rₜ", "scale": {"domain": [0, 5], "nice": false},
            "axis": {"labelOverlap": false, "tickCount": 100, "values": [0,0.5,1,1.5,2,2.5,3,3.5,4,4.5,5],
              "labelExpr": "datum.value % 1 == 0 ? format(datum.value, 'd') : ''",
              "gridColor": {"condition": {"test": "datum.value % 1 != 0", "value": "#F3F3F3"}, "value": "#EBEBEB"},
              "tickColor": {"condition": {"test": "datum.value % 1 != 0", "value": "transparent"}, "value": "#333333"}}},
      "y2": {"field": "hi95"}
     }},
    {"data": {"name": "rt1"}, "mark": {"type": "rect", "color": "#2C6D8E", "opacity": 0.62},
     "encoding": {"x": {"field": "start", "type": "temporal", "title": "Date", "scale": {"type": "utc"}}, "x2": {"field": "end"}, "y": {"field": "lo50", "type": "quantitative", "title": "Rₜ"}, "y2": {"field": "hi50"}}},
    {"data": {"values": [{}]}, "mark": {"type": "rule", "color": "#666666", "strokeWidth": 1},
     "encoding": {"y": {"datum": 1, "type": "quantitative", "title": "Rₜ"}}},
    {"data": {"name": "npi"}, "mark": {"type": "rule", "color": "#000000", "strokeWidth": 1, "strokeDash": [3, 3]},
     "encoding": {"x": {"field": "date", "type": "temporal", "title": "Date", "scale": {"type": "utc"}}, "y": {"datum": 0, "type": "quantitative", "title": "Rₜ"}, "y2": {"datum": 4.75}}},
    {"data": {"name": "npi"}, "mark": {"type": "point", "filled": false, "size": 38, "strokeWidth": 1.1, "opacity": 1},
     "encoding": {"x": {"field": "date", "type": "temporal", "title": "Date", "scale": {"type": "utc"}}, "y": {"datum": 4.75, "type": "quantitative", "title": "Rₜ"},
      "shape": {"field": "measure", "type": "nominal", "legend": null, "scale": {"domain": ["Lockdown","Public events","Schools + Universities","Self-isolating if ill","Social distancing encouraged"], "range": ["circle","square","circle","triangle-up","triangle-down"]}},
      "color": {"field": "measure", "type": "nominal", "legend": null, "scale": {"domain": ["Lockdown","Public events","Schools + Universities","Self-isolating if ill","Social distancing encouraged"], "range": ["#F8766D","#A3A500","#00BF7D","#00B0F6","#E76BF3"]}}}}
   ]},
  {"width": 220, "height": 162, "title": "Norway (Model 2)",
   "layer": [
    {"data": {"name": "cases"}, "mark": {"type": "bar", "width": 3.6, "color": "#FF8C94"},
     "encoding": {
      "x": {"field": "date", "type": "temporal", "title": "Date", "scale": {"type": "utc", "domain": [{"year":2020,"month":3,"date":12,"hours":19,"minutes":30,"utc":true},{"year":2020,"month":5,"date":7,"hours":15,"minutes":30,"utc":true}]},
            "axis": {"labelOverlap": false, "tickCount": 100, "values": [{"year":2020,"month":3,"date":16,"utc":true},{"year":2020,"month":3,"date":19,"hours":12,"utc":true},{"year":2020,"month":3,"date":23,"utc":true},{"year":2020,"month":3,"date":26,"hours":12,"utc":true},{"year":2020,"month":3,"date":30,"utc":true},{"year":2020,"month":4,"date":2,"hours":12,"utc":true},{"year":2020,"month":4,"date":6,"utc":true},{"year":2020,"month":4,"date":9,"hours":12,"utc":true},{"year":2020,"month":4,"date":13,"utc":true},{"year":2020,"month":4,"date":16,"hours":12,"utc":true},{"year":2020,"month":4,"date":20,"utc":true},{"year":2020,"month":4,"date":23,"hours":12,"utc":true},{"year":2020,"month":4,"date":27,"utc":true},{"year":2020,"month":4,"date":30,"hours":12,"utc":true},{"year":2020,"month":5,"date":4,"utc":true},{"year":2020,"month":5,"date":7,"hours":12,"utc":true}],
              "labelExpr": "utchours(datum.value) == 12 ? '' : utcFormat(datum.value, '%-d %b')", "labelAngle": -45, "labelAlign": "right", "labelBaseline": "top",
              "gridColor": {"condition": {"test": "utchours(datum.value) == 12", "value": "#F3F3F3"}, "value": "#EBEBEB"},
              "tickColor": {"condition": {"test": "utchours(datum.value) == 12", "value": "transparent"}, "value": "#333333"}}},
      "y": {"field": "count", "type": "quantitative", "title": "Daily number of infections", "scale": {"domain": [0, 4000], "nice": false},
            "axis": {"labelOverlap": false, "tickCount": 100, "values": [0,500,1000,1500,2000,2500,3000,3500,4000],
              "labelExpr": "datum.value % 1000 == 0 ? format(datum.value, 'd') : ''",
              "gridColor": {"condition": {"test": "datum.value % 1000 != 0", "value": "#F3F3F3"}, "value": "#EBEBEB"},
              "tickColor": {"condition": {"test": "datum.value % 1000 != 0", "value": "transparent"}, "value": "#333333"}}}
     }},
    {"data": {"name": "inf2"}, "mark": {"type": "area", "color": "#2C6D8E", "opacity": 0.62},
     "encoding": {"x": {"field": "date", "type": "temporal", "title": "Date", "scale": {"type": "utc"}}, "y": {"field": "lo95", "type": "quantitative", "title": "Daily number of infections"}, "y2": {"field": "hi95"}}},
    {"data": {"name": "inf2"}, "mark": {"type": "area", "color": "#2C6D8E", "opacity": 0.62},
     "encoding": {"x": {"field": "date", "type": "temporal", "title": "Date", "scale": {"type": "utc"}}, "y": {"field": "lo50", "type": "quantitative", "title": "Daily number of infections"}, "y2": {"field": "hi50"}}}
   ]},
  {"width": 228, "height": 162,
   "layer": [
    {"data": {"name": "deaths"}, "mark": {"type": "bar", "width": 3.6, "color": "#FF8C94"},
     "encoding": {
      "x": {"field": "date", "type": "temporal", "title": "Date", "scale": {"type": "utc", "domain": [{"year":2020,"month":3,"date":12,"hours":19,"minutes":30,"utc":true},{"year":2020,"month":5,"date":7,"hours":15,"minutes":30,"utc":true}]},
            "axis": {"labelOverlap": false, "tickCount": 100, "values": [{"year":2020,"month":3,"date":16,"utc":true},{"year":2020,"month":3,"date":19,"hours":12,"utc":true},{"year":2020,"month":3,"date":23,"utc":true},{"year":2020,"month":3,"date":26,"hours":12,"utc":true},{"year":2020,"month":3,"date":30,"utc":true},{"year":2020,"month":4,"date":2,"hours":12,"utc":true},{"year":2020,"month":4,"date":6,"utc":true},{"year":2020,"month":4,"date":9,"hours":12,"utc":true},{"year":2020,"month":4,"date":13,"utc":true},{"year":2020,"month":4,"date":16,"hours":12,"utc":true},{"year":2020,"month":4,"date":20,"utc":true},{"year":2020,"month":4,"date":23,"hours":12,"utc":true},{"year":2020,"month":4,"date":27,"utc":true},{"year":2020,"month":4,"date":30,"hours":12,"utc":true},{"year":2020,"month":5,"date":4,"utc":true},{"year":2020,"month":5,"date":7,"hours":12,"utc":true}],
              "labelExpr": "utchours(datum.value) == 12 ? '' : utcFormat(datum.value, '%-d %b')", "labelAngle": -45, "labelAlign": "right", "labelBaseline": "top",
              "gridColor": {"condition": {"test": "utchours(datum.value) == 12", "value": "#F3F3F3"}, "value": "#EBEBEB"},
              "tickColor": {"condition": {"test": "utchours(datum.value) == 12", "value": "transparent"}, "value": "#333333"}}},
      "y": {"field": "count", "type": "quantitative", "title": "Daily number of deaths", "scale": {"domain": [0, 15], "nice": false},
            "axis": {"labelOverlap": false, "tickCount": 100, "values": [0,2.5,5,7.5,10,12.5,15],
              "labelExpr": "datum.value % 5 == 0 ? format(datum.value, 'd') : ''",
              "gridColor": {"condition": {"test": "datum.value % 5 != 0", "value": "#F3F3F3"}, "value": "#EBEBEB"},
              "tickColor": {"condition": {"test": "datum.value % 5 != 0", "value": "transparent"}, "value": "#333333"}}}
     }},
    {"data": {"name": "dth2"}, "mark": {"type": "area", "color": "#2C6D8E", "opacity": 0.62},
     "encoding": {"x": {"field": "date", "type": "temporal", "title": "Date", "scale": {"type": "utc"}}, "y": {"field": "lo95", "type": "quantitative", "title": "Daily number of deaths"}, "y2": {"field": "hi95"}}},
    {"data": {"name": "dth2"}, "mark": {"type": "area", "color": "#2C6D8E", "opacity": 0.62},
     "encoding": {"x": {"field": "date", "type": "temporal", "title": "Date", "scale": {"type": "utc"}}, "y": {"field": "lo50", "type": "quantitative", "title": "Daily number of deaths"}, "y2": {"field": "hi50"}}},
    {"data": {"values": [{"label": "RMSE=3.07"}]}, "mark": {"type": "text", "align": "right", "baseline": "middle", "fontSize": 8.3, "color": "#000000"},
     "encoding": {"x": {"datum": {"year":2020,"month":5,"date":4,"hours":10,"utc":true}, "type": "temporal", "title": "Date", "scale": {"type": "utc"}}, "y": {"datum": 14.6, "type": "quantitative", "title": "Daily number of deaths"}, "text": {"field": "label"}}}
   ]},
  {"width": 232, "height": 162,
   "layer": [
    {"data": {"name": "rt2"}, "mark": {"type": "area", "color": "#2C6D8E", "opacity": 0.62},
     "encoding": {
      "x": {"field": "date", "type": "temporal", "title": "Date", "scale": {"type": "utc", "domain": [{"year":2020,"month":3,"date":6,"hours":1,"utc":true},{"year":2020,"month":5,"date":7,"hours":16,"utc":true}]},
            "axis": {"labelOverlap": false, "tickCount": 100, "values": [{"year":2020,"month":3,"date":9,"utc":true},{"year":2020,"month":3,"date":12,"hours":12,"utc":true},{"year":2020,"month":3,"date":16,"utc":true},{"year":2020,"month":3,"date":19,"hours":12,"utc":true},{"year":2020,"month":3,"date":23,"utc":true},{"year":2020,"month":3,"date":26,"hours":12,"utc":true},{"year":2020,"month":3,"date":30,"utc":true},{"year":2020,"month":4,"date":2,"hours":12,"utc":true},{"year":2020,"month":4,"date":6,"utc":true},{"year":2020,"month":4,"date":9,"hours":12,"utc":true},{"year":2020,"month":4,"date":13,"utc":true},{"year":2020,"month":4,"date":16,"hours":12,"utc":true},{"year":2020,"month":4,"date":20,"utc":true},{"year":2020,"month":4,"date":23,"hours":12,"utc":true},{"year":2020,"month":4,"date":27,"utc":true},{"year":2020,"month":4,"date":30,"hours":12,"utc":true},{"year":2020,"month":5,"date":4,"utc":true},{"year":2020,"month":5,"date":7,"hours":12,"utc":true}],
              "labelExpr": "utchours(datum.value) == 12 ? '' : utcFormat(datum.value, '%-d %b')", "labelAngle": -45, "labelAlign": "right", "labelBaseline": "top",
              "gridColor": {"condition": {"test": "utchours(datum.value) == 12", "value": "#F3F3F3"}, "value": "#EBEBEB"},
              "tickColor": {"condition": {"test": "utchours(datum.value) == 12", "value": "transparent"}, "value": "#333333"}}},
      "y": {"field": "lo95", "type": "quantitative", "title": "Rₜ", "scale": {"domain": [0, 5], "nice": false},
            "axis": {"labelOverlap": false, "tickCount": 100, "values": [0,0.5,1,1.5,2,2.5,3,3.5,4,4.5,5],
              "labelExpr": "datum.value % 1 == 0 ? format(datum.value, 'd') : ''",
              "gridColor": {"condition": {"test": "datum.value % 1 != 0", "value": "#F3F3F3"}, "value": "#EBEBEB"},
              "tickColor": {"condition": {"test": "datum.value % 1 != 0", "value": "transparent"}, "value": "#333333"}}},
      "y2": {"field": "hi95"}
     }},
    {"data": {"name": "rt2"}, "mark": {"type": "area", "color": "#2C6D8E", "opacity": 0.62},
     "encoding": {"x": {"field": "date", "type": "temporal", "title": "Date", "scale": {"type": "utc"}}, "y": {"field": "lo50", "type": "quantitative", "title": "Rₜ"}, "y2": {"field": "hi50"}}},
    {"data": {"values": [{}]}, "mark": {"type": "rule", "color": "#000000", "strokeWidth": 1},
     "encoding": {"y": {"datum": 1, "type": "quantitative", "title": "Rₜ"}}},
    {"data": {"name": "npi"}, "mark": {"type": "rule", "color": "#000000", "strokeWidth": 1, "strokeDash": [3, 3]},
     "encoding": {"x": {"field": "date", "type": "temporal", "title": "Date", "scale": {"type": "utc"}}, "y": {"datum": 0, "type": "quantitative", "title": "Rₜ"}, "y2": {"datum": 4.75}}},
    {"data": {"name": "npi"}, "mark": {"type": "point", "filled": false, "size": 38, "strokeWidth": 1.1, "opacity": 1},
     "encoding": {"x": {"field": "date", "type": "temporal", "title": "Date", "scale": {"type": "utc"}}, "y": {"datum": 4.75, "type": "quantitative", "title": "Rₜ"},
      "shape": {"field": "measure", "type": "nominal", "legend": null, "scale": {"domain": ["Lockdown","Public events","Schools + Universities","Self-isolating if ill","Social distancing encouraged"], "range": ["circle","square","circle","triangle-up","triangle-down"]}},
      "color": {"field": "measure", "type": "nominal", "legend": null, "scale": {"domain": ["Lockdown","Public events","Schools + Universities","Self-isolating if ill","Social distancing encouraged"], "range": ["#F8766D","#A3A500","#00BF7D","#00B0F6","#E76BF3"]}}}}
   ]}
]
}
